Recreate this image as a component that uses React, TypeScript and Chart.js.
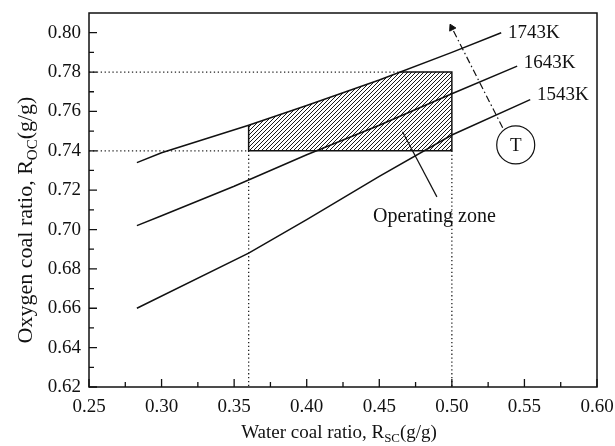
import React, { useEffect, useRef } from 'react';
import { Chart, registerables } from 'chart.js';
Chart.register(...registerables);

const FONT = '"Liberation Serif", "Times New Roman", serif';

// Axis ticks
const xTicks = [0.25, 0.3, 0.35, 0.4, 0.45, 0.5, 0.55, 0.6];
const yTicks = [0.62, 0.64, 0.66, 0.68, 0.7, 0.72, 0.74, 0.76, 0.78, 0.8];
const xMinor = [0.275, 0.325, 0.375, 0.425, 0.475, 0.525, 0.575];
const yMinor = [0.63, 0.65, 0.67, 0.69, 0.71, 0.73, 0.75, 0.77, 0.79];

// Temperature curves
const t1743X = [0.283, 0.3, 0.36, 0.4, 0.45, 0.5, 0.534];
const t1743Y = [0.734, 0.739, 0.753, 0.763, 0.776, 0.79, 0.8];
const t1643X = [0.283, 0.3, 0.35, 0.4, 0.45, 0.5, 0.545];
const t1643Y = [0.702, 0.707, 0.722, 0.738, 0.753, 0.769, 0.783];
const t1543X = [0.283, 0.36, 0.4, 0.45, 0.5, 0.554];
const t1543Y = [0.66, 0.688, 0.705, 0.727, 0.748, 0.766];

// Operating zone
const zoneTopX = [0.36, 0.4, 0.45, 0.464, 0.5];
const zoneTopY = [0.753, 0.763, 0.776, 0.78, 0.78];
const zoneBase = 0.74;
const zoneEdgeX = [0.464, 0.5, 0.5, 0.36, 0.36];
const zoneEdgeY = [0.78, 0.78, 0.74, 0.74, 0.753];

// Dotted guides
const guide078X = [0.25, 0.464];
const guide078Y = [0.78, 0.78];
const guide074X = [0.25, 0.36];
const guide074Y = [0.74, 0.74];
const guideV036X = [0.36, 0.36];
const guideV036Y = [0.74, 0.62];
const guideV050X = [0.5, 0.5];
const guideV050Y = [0.74, 0.62];

// Temperature arrow and circle
const arrowX = [0.535, 0.5];
const arrowY = [0.7517, 0.8025];
const circleX = [0.544];
const circleY = [0.743];

// Pointer to operating zone
const pointerX = [0.466, 0.4897];
const pointerY = [0.7497, 0.7166];

// Text labels
const curveLabels = ['1743K', '1643K', '1543K'];
const curveLabelX = [0.5386, 0.5496, 0.5586];
const curveLabelY = [0.8, 0.7847, 0.7685];
const zoneLabel = 'Operating zone';
const zoneLabelX = 0.488;
const zoneLabelY = 0.7064;

const pts = (xs: number[], ys: number[]) => xs.map((x, i) => ({ x, y: ys[i] }));

function makeHatch(): CanvasPattern | string {
  const c = document.createElement('canvas');
  c.width = 4;
  c.height = 4;
  const g = c.getContext('2d');
  if (!g) return '#888';
  g.strokeStyle = '#1a1a1a';
  g.lineWidth = 1;
  g.beginPath();
  g.moveTo(0, 4); g.lineTo(4, 0);
  g.moveTo(-1, 1); g.lineTo(1, -1);
  g.moveTo(3, 5); g.lineTo(5, 3);
  g.stroke();
  const p = g.createPattern(c, 'repeat');
  return p || '#888';
}

function drawSubText(ctx: CanvasRenderingContext2D, parts: [string, boolean][], size: number) {
  const sub = size * 0.68;
  let total = 0;
  const widths = parts.map(([t, s]) => {
    ctx.font = `${s ? sub : size}px ${FONT}`;
    const w = ctx.measureText(t).width;
    total += w;
    return w;
  });
  let x = -total / 2;
  parts.forEach(([t, s], i) => {
    ctx.font = `${s ? sub : size}px ${FONT}`;
    ctx.fillText(t, x, s ? size * 0.3 : 0);
    x += widths[i];
  });
}

const framePlugin = {
  id: 'frame',
  afterDraw(chart: any) {
    const { ctx, chartArea: a, scales } = chart;
    const xs = scales.x;
    const ys = scales.y;
    ctx.save();
    ctx.strokeStyle = '#111';
    ctx.lineWidth = 1.5;
    ctx.strokeRect(a.left, a.top, a.right - a.left, a.bottom - a.top);
    ctx.lineWidth = 1.3;
    ctx.beginPath();
    xTicks.forEach((v) => { const p = xs.getPixelForValue(v); ctx.moveTo(p, a.bottom); ctx.lineTo(p, a.bottom - 8); });
    xMinor.forEach((v) => { const p = xs.getPixelForValue(v); ctx.moveTo(p, a.bottom); ctx.lineTo(p, a.bottom - 5); });
    yTicks.forEach((v) => { const p = ys.getPixelForValue(v); ctx.moveTo(a.left, p); ctx.lineTo(a.left + 8, p); });
    yMinor.forEach((v) => { const p = ys.getPixelForValue(v); ctx.moveTo(a.left, p); ctx.lineTo(a.left + 5, p); });
    ctx.stroke();

    ctx.fillStyle = '#111';
    ctx.textBaseline = 'middle';
    ctx.textAlign = 'left';
    ctx.font = `19px ${FONT}`;
    curveLabels.forEach((t, i) => {
      ctx.fillText(t, xs.getPixelForValue(curveLabelX[i]), ys.getPixelForValue(curveLabelY[i]));
    });
    ctx.textAlign = 'center';
    ctx.font = `20px ${FONT}`;
    ctx.fillText(zoneLabel, xs.getPixelForValue(zoneLabelX), ys.getPixelForValue(zoneLabelY));
    ctx.font = `19px ${FONT}`;
    ctx.fillText('T', xs.getPixelForValue(circleX[0]), ys.getPixelForValue(circleY[0]) + 1);

    ctx.textAlign = 'left';
    ctx.save();
    ctx.translate(339, 433);
    drawSubText(ctx, [['Water coal ratio, R', false], ['SC', true], ['(g/g)', false]], 19);
    ctx.restore();
    ctx.save();
    ctx.translate(26, 220);
    ctx.rotate(-Math.PI / 2);
    drawSubText(ctx, [['Oxygen coal ratio, R', false], ['OC', true], ['(g/g)', false]], 22);
    ctx.restore();
    ctx.restore();
  },
};

const zeroPad = (s: any) => {
  s.paddingLeft = 0; s.paddingRight = 0; s.paddingTop = 0; s.paddingBottom = 0;
};

export default function App() {
  const ref = useRef<HTMLCanvasElement>(null);
  useEffect(() => {
    if (!ref.current) return;
    const hatch = makeHatch();
    const solid = (xs: number[], ys: number[]) => ({
      data: pts(xs, ys), borderColor: '#111', borderWidth: 1.5, pointRadius: 0, fill: false, tension: 0,
    });
    const dotted = (xs: number[], ys: number[]) => ({
      data: pts(xs, ys), borderColor: '#222', borderWidth: 1.3, borderDash: [1.3, 2.6], pointRadius: 0, fill: false,
    });
    const chart = new Chart(ref.current, {
      type: 'line',
      data: {
        datasets: [
          { ...solid(t1743X, t1743Y), order: 1 },
          { ...solid(t1643X, t1643Y), order: 1 },
          { ...solid(t1543X, t1543Y), order: 1 },
          { ...solid(zoneEdgeX, zoneEdgeY), order: 1 },
          { ...solid(pointerX, pointerY), borderWidth: 1.2, order: 1 },
          {
            data: pts(arrowX, arrowY), borderColor: '#111', borderWidth: 1.2,
            borderDash: [7, 3, 1.5, 3], fill: false,
            pointRadius: [0, 4], pointStyle: 'triangle', pointRotation: -27,
            pointBackgroundColor: '#111', pointBorderColor: '#111', pointBorderWidth: 1, order: 1,
          },
          {
            data: pts(circleX, circleY), showLine: false, pointRadius: 19, pointStyle: 'circle',
            pointBackgroundColor: '#fff', pointBorderColor: '#111', pointBorderWidth: 1.2, order: 0,
          },
          { ...dotted(guide078X, guide078Y), order: 2 },
          { ...dotted(guide074X, guide074Y), order: 2 },
          { ...dotted(guideV036X, guideV036Y), order: 2 },
          { ...dotted(guideV050X, guideV050Y), order: 2 },
          {
            data: pts(zoneTopX, zoneTopY), borderWidth: 0, borderColor: 'rgba(0,0,0,0)', pointRadius: 0,
            fill: { value: zoneBase }, backgroundColor: hatch, order: 3,
          },
        ],
      } as any,
      options: {
        responsive: false,
        animation: false,
        events: [],
        layout: { autoPadding: false, padding: { top: 13, right: 18, left: 0, bottom: 0 } },
        plugins: { legend: { display: false }, tooltip: { enabled: false } },
        scales: {
          x: {
            type: 'linear', min: 0.25, max: 0.6,
            grid: { display: false, drawTicks: false },
            border: { display: false },
            afterBuildTicks: (s: any) => { s.ticks = xTicks.map((v) => ({ value: v })); },
            afterFit: (s: any) => { s.height = 59; zeroPad(s); },
            ticks: {
              padding: 9, color: '#111', maxRotation: 0, autoSkip: false,
              font: { family: FONT, size: 19 },
              callback: (v: any) => Number(v).toFixed(2),
            },
          },
          y: {
            type: 'linear', min: 0.62, max: 0.81,
            grid: { display: false, drawTicks: false },
            border: { display: false },
            afterBuildTicks: (s: any) => { s.ticks = yTicks.map((v) => ({ value: v })); },
            afterFit: (s: any) => { s.width = 89; zeroPad(s); },
            ticks: {
              padding: 8, color: '#111', autoSkip: false,
              font: { family: FONT, size: 19 },
              callback: (v: any) => Number(v).toFixed(2),
            },
          },
        },
      } as any,
      plugins: [framePlugin],
    });
    return () => chart.destroy();
  }, []);
  return (
    <div style={{ position: 'absolute', left: 0, top: 0, width: 615, height: 446, background: '#fff' }}>
      <canvas ref={ref} width={615} height={446} style={{ display: 'block' }} />
    </div>
  );
}
